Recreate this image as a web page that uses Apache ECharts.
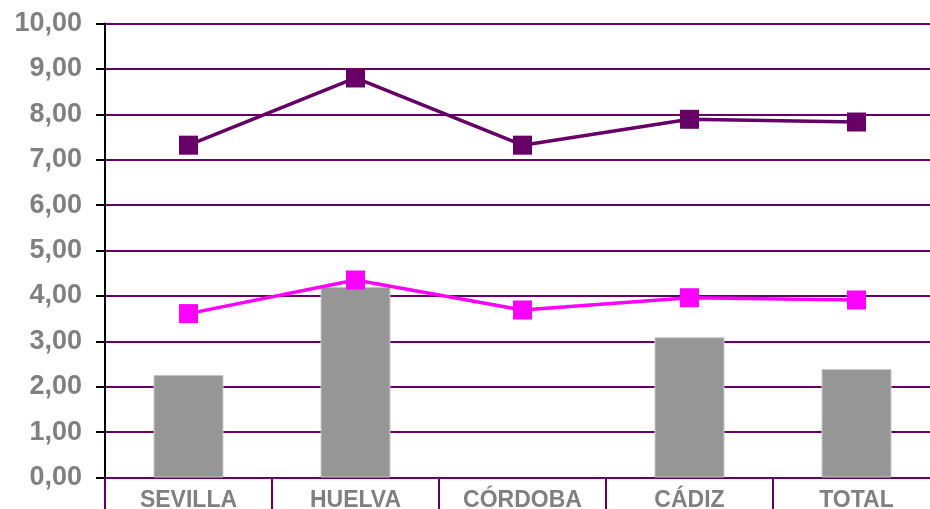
<!DOCTYPE html>
<html>
<head>
<meta charset="utf-8">
<script src="https://cdn.jsdelivr.net/npm/echarts@6/dist/echarts.min.js"></script>
<style>
  html, body { margin: 0; padding: 0; background: #fff; }
  #chart { width: 930px; height: 509px; }
</style>
</head>
<body>
<div id="chart"></div>
<script>
// data
const categories = ['SEVILLA', 'HUELVA', 'CÓRDOBA', 'CÁDIZ', 'TOTAL']
const barValues = [2.26, 4.2, null, 3.09, 2.39]
const darkLine = [7.32, 8.8, 7.32, 7.89, 7.83]
const pinkLine = [3.61, 4.35, 3.69, 3.96, 3.91]

const purple = '#660066'
const labelGray = '#808080'

const chart = echarts.init(document.getElementById('chart'))
const option = {
  animation: false,
  grid: {
    left: 105,
    top: 23.5,
    width: 835,
    height: 454,
    outerBoundsMode: 'none'
  },
  xAxis: {
    type: 'category',
    data: categories,
    axisLine: { lineStyle: { color: purple, width: 2 } },
    axisTick: { show: true, length: 34, lineStyle: { color: purple, width: 2 } },
    axisLabel: {
      color: labelGray,
      fontFamily: 'Liberation Sans, Arial, sans-serif',
      fontWeight: 'bold',
      fontSize: 23,
      margin: 12
    }
  },
  yAxis: {
    type: 'value',
    min: 0,
    max: 10,
    interval: 1,
    axisLine: { show: true, lineStyle: { color: '#000', width: 2 } },
    axisTick: { show: true, inside: false, length: 9, lineStyle: { color: '#000', width: 2 } },
    splitLine: { lineStyle: { color: purple, width: 2 } },
    axisLabel: {
      color: labelGray,
      fontFamily: 'Liberation Sans, Arial, sans-serif',
      fontWeight: 'bold',
      fontSize: 27,
      margin: 23,
      formatter: v => v.toFixed(2).replace('.', ',')
    }
  },
  series: [
    {
      type: 'bar',
      data: barValues,
      barWidth: 70,
      itemStyle: { color: '#969696', borderColor: '#c8c8c8', borderWidth: 1 }
    },
    {
      type: 'line',
      data: darkLine,
      symbol: 'rect',
      symbolSize: 19,
      lineStyle: { color: purple, width: 3.5 },
      itemStyle: { color: purple }
    },
    {
      type: 'line',
      data: pinkLine,
      symbol: 'rect',
      symbolSize: 19,
      lineStyle: { color: '#ff00ff', width: 3.5 },
      itemStyle: { color: '#ff00ff' }
    }
  ]
}
chart.setOption(option)
</script>
</body>
</html>
